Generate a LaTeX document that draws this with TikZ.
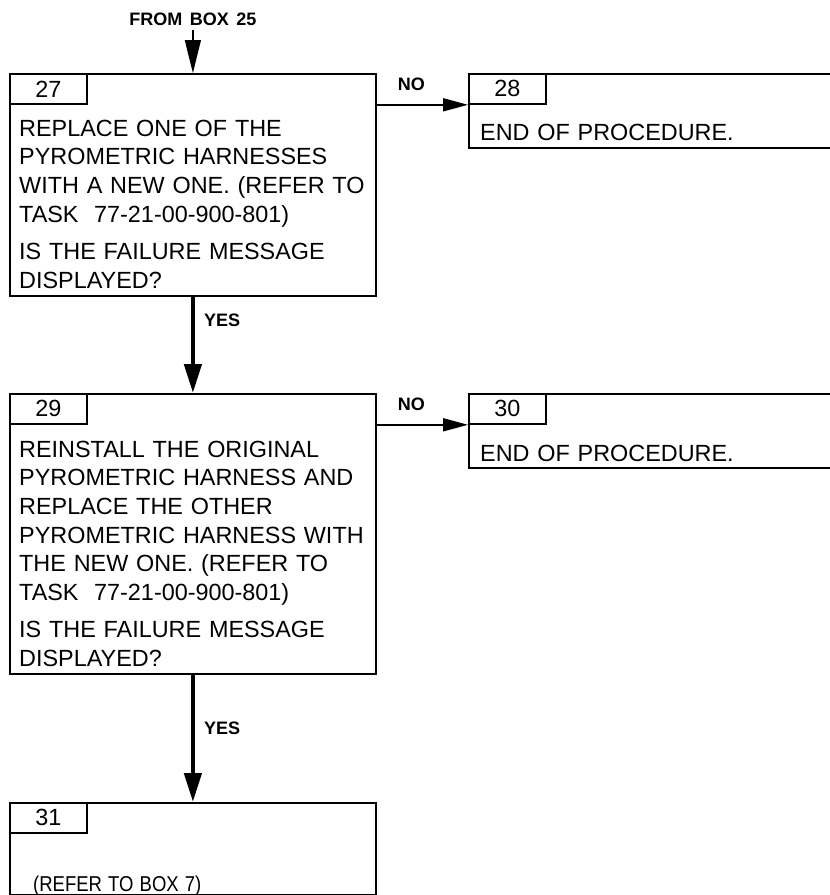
\documentclass[tikz,border=0pt]{standalone}
\usepackage{fontspec}
\usepackage{graphicx}
\setmainfont[WordSpace=1.5]{Liberation Sans}
\usetikzlibrary{arrows.meta,positioning}

\begin{document}
\begin{tikzpicture}[x=1pt, y=-1pt,
  box/.style={rectangle, draw, line width=1.8pt, anchor=north west, inner sep=0pt,
              minimum width=366pt},
  endbox/.style={box, minimum width=400pt, minimum height=74pt},
  num/.style={rectangle, draw, line width=1.8pt, anchor=north west, inner sep=0pt,
              minimum width=77pt, minimum height=30pt, font=\fontsize{23.4}{27}\selectfont},
  body/.style={anchor=base west, inner sep=0pt, text width=400pt, align=left,
               font=\fontsize{23.4}{28.7}\selectfont},
  lbl/.style={inner sep=0pt, font=\fontsize{18}{21}\selectfont\bfseries},
  yes/.style={-{Triangle[length=29pt, width=17pt]}, line width=4.5pt},
  no/.style={-{Triangle[length=25pt, width=13pt]}, line width=1.8pt},
]
\useasboundingbox (0,0) rectangle (830,895);
\clip (0,0) rectangle (830,895);

\node[box, minimum height=222pt] (b27) at (9,73) {};
\node[box, minimum height=280pt] (b29) at (9,393) {};
\node[box, minimum height=92pt] (b31) at (9,802) {};
\node[endbox] (b28) at (468,73) {};
\node[endbox] (b30) at (468,393) {};

\node[num] (n27) at (b27.north west) {27};
\node[num] (n28) at (b28.north west) {28};
\node[num] (n29) at (b29.north west) {29};
\node[num] (n30) at (b30.north west) {30};
\node[num] (n31) at (b31.north west) {31};

\node[body] (t27) at (19,136)
  {REPLACE ONE OF THE\\ PYROMETRIC HARNESSES\\ WITH A NEW ONE. (REFER TO\\
   TASK\ \ 77-21-00-900-801)\\[8.6pt] IS THE FAILURE MESSAGE\\ DISPLAYED?};
\node[body] (t28) at (480,140) {END OF PROCEDURE.};
\node[body] (t29) at (19,457)
  {REINSTALL THE ORIGINAL\\ PYROMETRIC HARNESS AND\\ REPLACE THE OTHER\\
   PYROMETRIC HARNESS WITH\\ THE NEW ONE. (REFER TO\\ TASK\ \ 77-21-00-900-801)\\[8.6pt]
   IS THE FAILURE MESSAGE\\ DISPLAYED?};
\node[body] (t30) at (480,461) {END OF PROCEDURE.};
\node[body, font=\fontsize{21.5}{25}\selectfont] (t31) at (33,891.5)
  {\scalebox{0.86}[1]{(REFER TO BOX 7)}};

\node[lbl, inner ysep=4pt, above=43pt of b27.north] (from) {FROM BOX 25};
\draw[-{Triangle[length=33pt, width=16pt]}, line width=1.5pt] (from) -- (b27);

\draw[no] (b27.east |- n27.south) -- (b28.west |- n28.south)
  node[lbl, pos=0.38, above=13pt] (no27) {NO};
\draw[no] (b29.east |- n29.south) -- (b30.west |- n30.south)
  node[lbl, pos=0.38, above=13pt] (no29) {NO};

\draw[yes] (b27) -- (b29) node[lbl, pos=0.24, right=9pt] (yes27) {YES};
\draw[yes] (b29) -- (b31) node[lbl, pos=0.42, right=9pt] (yes29) {YES};

\end{tikzpicture}
\end{document}
